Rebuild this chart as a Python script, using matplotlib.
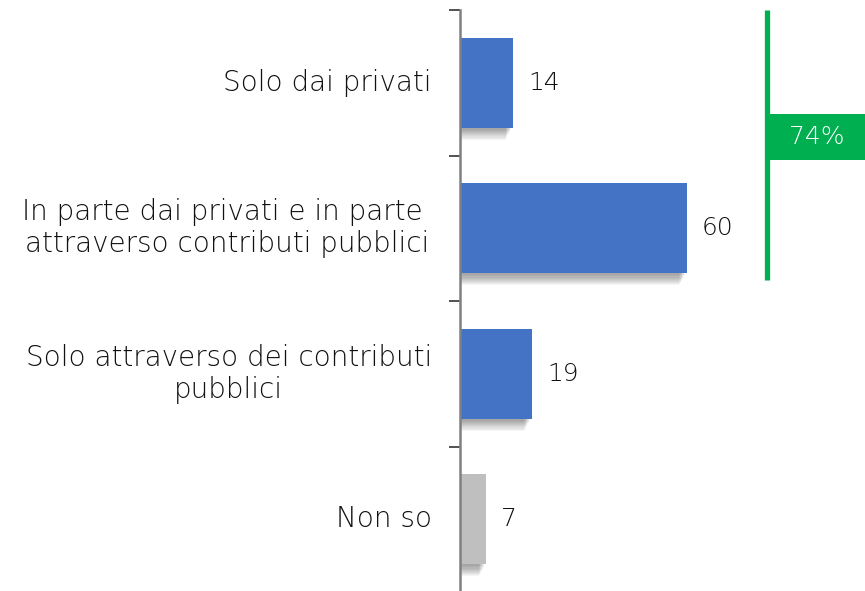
import matplotlib.pyplot as plt
import matplotlib.patches as patches

categories = ["Solo dai privati",
              "In parte dai privati e in parte \nattraverso contributi pubblici",
              "Solo attraverso dei contributi\npubblici",
              "Non so"]
values = [14, 60, 19, 7]
colors = ["#4472C4", "#4472C4", "#4472C4", "#BFBFBF"]
bracket_total = values[0] + values[1]

plt.rcParams['font.family'] = ['DejaVu Sans']

fig = plt.figure(figsize=(8.65, 5.91), dpi=100)
ax = fig.add_axes([460 / 865, -1 / 591, 405 / 865, 582 / 591])

px = 3.78   # pixels per unit on x
py = 145.5  # pixels per category
ax.set_xlim(0, 405 / px)
ax.set_ylim(3.5, -0.5)

ypos = list(range(len(values)))
h = 0.62

# blurred shadow under the bars
for k in range(10):
    off = (2 + k * 1.1) / py
    shrink = (2 + k * 0.6) / px
    for y, v in zip(ypos, values):
        ax.add_patch(patches.Rectangle((0, y - h / 2 + off), v - shrink, h,
                                       color="black", alpha=0.04, lw=0, zorder=1))

ax.barh(ypos, values, height=h, color=colors, zorder=2)

for y, v in zip(ypos, values):
    ax.text(v + 15 / px, y, str(v), va='center', ha='left', fontsize=18,
            fontweight='light', color='#111111')

# category labels
for y, c in zip(ypos, categories):
    ax.text(-28 / px, y, c, va='center', ha='right', multialignment='center',
            fontsize=20, fontweight='light', color='#111111', linespacing=1.2)

ax.set_yticks([-0.5, 0.5, 1.5, 2.5, 3.5])
ax.set_yticklabels([])
ax.tick_params(axis='y', length=8, width=1.2, color='#333333', direction='out')
ax.set_xticks([])
for s in ['top', 'right', 'bottom']:
    ax.spines[s].set_visible(False)
ax.spines['left'].set_color('#808080')
ax.spines['left'].set_linewidth(1.8)
ax.spines['left'].set_zorder(3)

# green bracket with total
gx = 307 / px
ax.plot([gx, gx], [-0.5, 1.356], color='#00B050', lw=3.8, solid_capstyle='butt',
        clip_on=False, zorder=3)
ax.add_patch(patches.Rectangle((gx, 0.215), 405 / px - gx, 0.316, color='#00B050',
                               lw=0, clip_on=False, zorder=3))
ax.text(gx + 50 / px, 0.373, f"{bracket_total}%", color='white', ha='center',
        va='center', fontsize=18, fontweight='light', zorder=4)

fig.savefig('out.png', dpi=100)
